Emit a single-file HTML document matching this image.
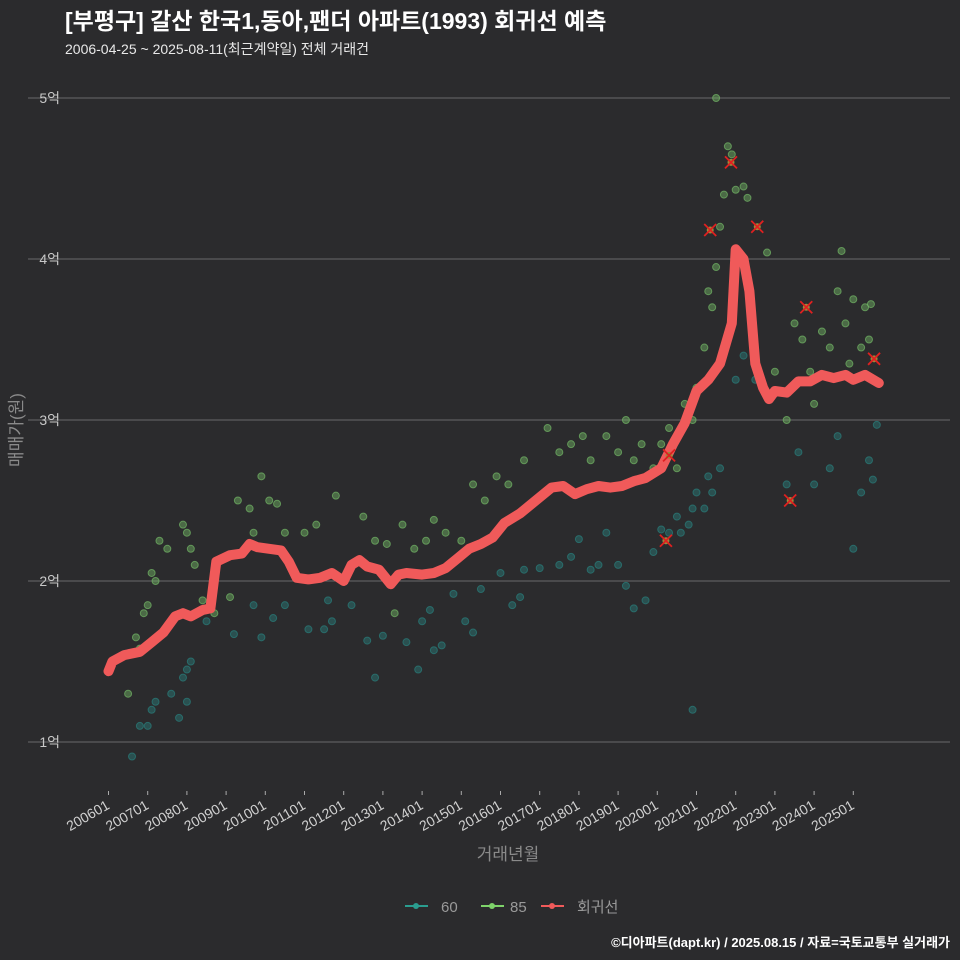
<!DOCTYPE html>
<html><head><meta charset="utf-8"><style>
html,body{margin:0;background:#2b2b2d;overflow:hidden;width:960px;height:960px;}
svg{display:block;}
svg text{font-family:"Liberation Sans","Noto Sans CJK KR",sans-serif;}
</style></head><body>
<svg id="chart" width="960" height="960" xmlns="http://www.w3.org/2000/svg">
<rect width="960" height="960" fill="#2b2b2d"/>
<text x="65" y="29" fill="#ffffff" font-size="23" font-weight="bold">[부평구] 갈산 한국1,동아,팬더 아파트(1993) 회귀선 예측</text>
<text x="65" y="54" fill="#e8e8e8" font-size="14">2006-04-25 ~ 2025-08-11(최근계약일) 전체 거래건</text>
<g id="grid"></g>
<g id="yticks"></g>
<g id="xticks"></g>
<g id="pts60"></g>
<g id="pts85"></g>
<g id="reg"></g>
<g id="marks"></g>
<text transform="translate(22,430) rotate(-90)" text-anchor="middle" fill="#8a8a8a" font-size="17">매매가(원)</text>
<text x="508" y="860" text-anchor="middle" fill="#8a8a8a" font-size="17">거래년월</text>
<g>
<g><line x1="405" y1="906" x2="428" y2="906" stroke="#2a9d8f" stroke-width="2"/><circle cx="416" cy="906" r="3" fill="#2a9d8f"/><text x="441" y="912" fill="#9a9a9a" font-size="15">60</text></g>
<g><line x1="481" y1="906" x2="504" y2="906" stroke="#7ed36a" stroke-width="2"/><circle cx="492" cy="906" r="3" fill="#7ed36a"/><text x="510" y="912" fill="#9a9a9a" font-size="15">85</text></g>
<g><line x1="541" y1="906" x2="564" y2="906" stroke="#f05a5a" stroke-width="2"/><circle cx="552" cy="906" r="3" fill="#f05a5a"/><text x="577" y="912" fill="#9a9a9a" font-size="15">회귀선</text></g>
</g>
<text x="950" y="947" text-anchor="end" fill="#ffffff" font-size="13" font-weight="bold">©디아파트(dapt.kr) / 2025.08.15 / 자료=국토교통부 실거래가</text>
</svg>
<script>
const yTicks=[1,2,3,4,5];
const xTickYears=[2006,2007,2008,2009,2010,2011,2012,2013,2014,2015,2016,2017,2018,2019,2020,2021,2022,2023,2024,2025];
const regT=[2006.0,2006.1,2006.4,2006.8,2007.1,2007.4,2007.7,2007.9,2008.1,2008.4,2008.6,2008.75,2009.1,2009.4,2009.6,2009.8,2010.1,2010.4,2010.6,2010.8,2011.1,2011.4,2011.7,2012.0,2012.2,2012.4,2012.6,2012.9,2013.2,2013.4,2013.6,2014.0,2014.3,2014.6,2014.9,2015.2,2015.5,2015.8,2016.1,2016.5,2016.9,2017.3,2017.6,2017.9,2018.2,2018.5,2018.8,2019.1,2019.4,2019.7,2020.1,2020.4,2020.7,2021.0,2021.3,2021.6,2021.9,2022.0,2022.2,2022.35,2022.5,2022.7,2022.85,2023.0,2023.3,2023.6,2023.9,2024.2,2024.5,2024.8,2025.0,2025.3,2025.65];
const regV=[1.44,1.50,1.54,1.56,1.62,1.68,1.78,1.80,1.78,1.82,1.83,2.12,2.16,2.17,2.23,2.21,2.20,2.19,2.12,2.02,2.01,2.02,2.05,2.00,2.10,2.13,2.09,2.07,1.98,2.04,2.05,2.04,2.05,2.08,2.14,2.20,2.23,2.27,2.36,2.42,2.50,2.58,2.59,2.54,2.57,2.59,2.58,2.59,2.62,2.64,2.70,2.85,2.98,3.18,3.25,3.35,3.60,4.06,4.00,3.80,3.35,3.20,3.13,3.18,3.17,3.24,3.24,3.28,3.26,3.28,3.25,3.28,3.23];
const t60=[2006.6,2006.8,2007.0,2007.1,2007.2,2007.6,2007.8,2007.9,2008.0,2008.1,2008.0,2008.5,2009.2,2009.7,2009.9,2010.2,2010.5,2011.1,2011.5,2011.6,2011.7,2012.2,2012.6,2012.8,2013.0,2013.6,2013.9,2014.0,2014.2,2014.3,2014.5,2014.8,2015.1,2015.3,2015.5,2016.0,2016.3,2016.6,2016.5,2017.0,2017.5,2017.8,2018.0,2018.3,2018.5,2018.7,2019.0,2019.2,2019.4,2019.7,2019.9,2020.1,2020.3,2020.5,2020.6,2020.8,2020.9,2020.9,2021.0,2021.2,2021.3,2021.4,2021.6,2022.0,2022.2,2022.5,2023.3,2023.6,2024.0,2024.4,2024.6,2025.0,2025.2,2025.4,2025.5,2025.6];
const v60=[0.91,1.10,1.10,1.20,1.25,1.30,1.15,1.40,1.45,1.50,1.25,1.75,1.67,1.85,1.65,1.77,1.85,1.70,1.70,1.88,1.75,1.85,1.63,1.40,1.66,1.62,1.45,1.75,1.82,1.57,1.60,1.92,1.75,1.68,1.95,2.05,1.85,2.07,1.90,2.08,2.10,2.15,2.26,2.07,2.10,2.30,2.10,1.97,1.83,1.88,2.18,2.32,2.30,2.40,2.30,2.35,2.45,1.20,2.55,2.45,2.65,2.55,2.70,3.25,3.40,3.25,2.60,2.80,2.60,2.70,2.90,2.20,2.55,2.75,2.63,2.97];
const t85=[2006.5,2006.6,2006.7,2006.8,2006.9,2007.0,2007.1,2007.2,2007.3,2007.5,2007.9,2008.0,2008.1,2008.2,2008.4,2008.7,2009.1,2009.3,2009.6,2009.7,2009.9,2010.1,2010.3,2010.5,2011.0,2011.3,2011.8,2012.5,2012.8,2013.1,2013.3,2013.5,2013.8,2014.1,2014.3,2014.6,2015.0,2015.3,2015.6,2015.9,2016.2,2016.6,2016.9,2017.2,2017.5,2017.8,2018.1,2018.3,2018.7,2019.0,2019.2,2019.4,2019.6,2019.9,2020.1,2020.3,2020.5,2020.7,2020.9,2021.0,2021.2,2021.3,2021.4,2021.5,2021.6,2021.7,2021.8,2021.9,2022.0,2022.2,2022.3,2021.5,2022.8,2023.3,2023.5,2023.7,2023.9,2024.0,2024.2,2024.4,2024.6,2024.8,2024.9,2025.0,2025.2,2025.3,2025.4,2025.45,2024.7,2023.0];
const v85=[1.30,1.55,1.65,1.58,1.80,1.85,2.05,2.00,2.25,2.20,2.35,2.30,2.20,2.10,1.88,1.80,1.90,2.50,2.45,2.30,2.65,2.50,2.48,2.30,2.30,2.35,2.53,2.40,2.25,2.23,1.80,2.35,2.20,2.25,2.38,2.30,2.25,2.60,2.50,2.65,2.60,2.75,2.50,2.95,2.80,2.85,2.90,2.75,2.90,2.80,3.00,2.75,2.85,2.70,2.85,2.95,2.70,3.10,3.00,3.20,3.45,3.80,3.70,3.95,4.20,4.40,4.70,4.65,4.43,4.45,4.38,5.00,4.04,3.00,3.60,3.50,3.30,3.10,3.55,3.45,3.80,3.60,3.35,3.75,3.45,3.70,3.50,3.72,4.05,3.30];
const markT=[2020.22,2020.3,2021.35,2021.88,2022.55,2023.39,2023.8,2025.53];
const markV=[2.25,2.78,4.18,4.60,4.20,2.50,3.70,3.38];

const NS='http://www.w3.org/2000/svg';
const X=t=>108.5+(t-2006)*39.2;
const Y=v=>742-(v-1)*161;
function mk(tag,attrs,parent){const e=document.createElementNS(NS,tag);for(const k in attrs)e.setAttribute(k,attrs[k]);parent.appendChild(e);return e;}
const grid=document.getElementById('grid'),yt=document.getElementById('yticks'),xt=document.getElementById('xticks');
yTicks.forEach(v=>{
 const l=mk('line',{x1:28,x2:950,y1:Y(v),y2:Y(v),stroke:'#6a6a6a','stroke-width':1},grid);
 
 
 const t=mk('text',{x:60,y:Y(v)+5,'text-anchor':'end',fill:'#c8c8c8','font-size':14},yt);
 t.textContent=v+'억';
 
 
});
xTickYears.forEach(y=>{
 const x=X(y);
 const l=mk('line',{x1:x,x2:x,y1:791,y2:795,stroke:'#aaaaaa'},xt);
 
 
 const t=mk('text',{transform:`translate(${x+2},808) rotate(-30)`,'text-anchor':'end',fill:'#d0d0d0','font-size':14},xt);
 t.textContent=y+'01';
 
 
});
function pts(ts,vs,g,col,name){ts.forEach((t,i)=>{const c=mk('circle',{cx:X(t),cy:Y(vs[i]),r:3.5,fill:col,'fill-opacity':0.45,stroke:col,'stroke-opacity':0.7,'stroke-width':1},g);
 
 });}
pts(t60,v60,document.getElementById('pts60'),'#2a7f7c','point-60');
pts(t85,v85,document.getElementById('pts85'),'#74b866','point-85');
const d=regT.map((t,i)=>(i?'L':'M')+X(t).toFixed(1)+','+Y(regV[i]).toFixed(1)).join(' ');
const p=mk('path',{d:d,fill:'none',stroke:'#f05a5a','stroke-width':10,'stroke-linejoin':'round','stroke-linecap':'round'},document.getElementById('reg'));


const mg=document.getElementById('marks');
markT.forEach((t,i)=>{const x=X(t),y=Y(markV[i]);
 const g=mk('g',{},mg);
 
 
 mk('circle',{cx:x,cy:y,r:3.5,fill:'#9c8a3a'},g);
 mk('path',{d:`M${x-6},${y-6}L${x+6},${y+6}M${x-6},${y+6}L${x+6},${y-6}`,stroke:'#e02020','stroke-width':1.8},g);
});
</script>
</body></html>
